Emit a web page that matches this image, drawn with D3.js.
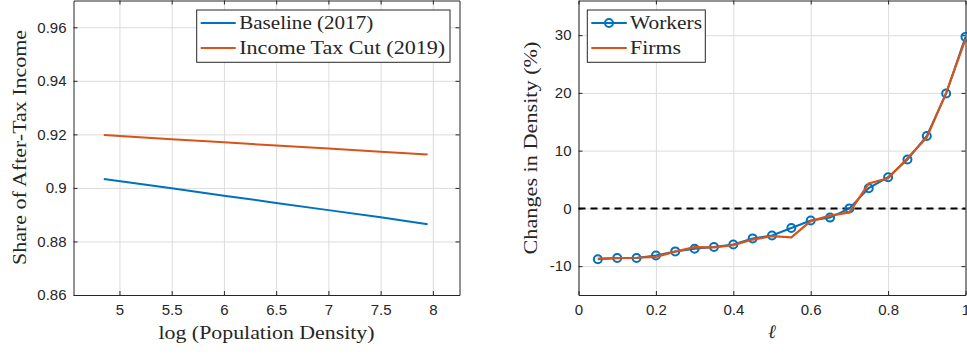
<!DOCTYPE html>
<html>
<head>
<meta charset="utf-8">
<script src="https://cdn.jsdelivr.net/npm/d3@7"></script>
<style>
  body { margin: 0; background: #fff; }
  svg { display: block; }
  .tick text { font-family: "Liberation Sans", Arial, sans-serif; font-size: 15px; fill: #262626; }
  .label { font-family: "Liberation Serif", "Times New Roman", serif; fill: #262626; }
</style>
</head>
<body>
<div class="chart"></div>
<script>
// Left panel data
let logDensity = [4.85, 5.5, 6, 6.5, 7, 7.5, 7.95];
let baseline2017 = [0.9033, 0.8999, 0.8971, 0.8944, 0.8917, 0.8890, 0.8864];
let taxCut2019 = [0.9198, 0.9182, 0.9171, 0.9158, 0.9147, 0.9135, 0.9125];
let leftXTicks = [5, 5.5, 6, 6.5, 7, 7.5, 8];
let leftYTicks = [0.86, 0.88, 0.9, 0.92, 0.94, 0.96];

// Right panel data
let ell = [0.05, 0.1, 0.15, 0.2, 0.25, 0.3, 0.35, 0.4, 0.45, 0.5,
           0.55, 0.6, 0.65, 0.7, 0.75, 0.8, 0.85, 0.9, 0.95, 1];
let workers = [-8.8, -8.6, -8.6, -8.15, -7.45, -7.0, -6.7, -6.25, -5.2, -4.7,
               -3.4, -2.1, -1.6, 0.0, 3.5, 5.4, 8.45, 12.55, 19.9, 29.7];
let firms = [-8.7, -8.6, -8.55, -8.4, -7.5, -6.7, -6.75, -6.35, -5.4, -4.8,
             -5.0, -2.2, -1.25, -0.7, 4.3, 5.2, 8.7, 12.3, 20.0, 29.3];
let rightXTicks = [0, 0.2, 0.4, 0.6, 0.8, 1];
let rightYTicks = [-10, 0, 10, 20, 30];

let svgWidth = 967;
let svgHeight = 354;
let blue = "#0072BD";
let orange = "#D95319";
let ink = "#262626";

let svg = d3.select(".chart")
  .append("svg")
  .attr("width", svgWidth)
  .attr("height", svgHeight);

// draws the box, grid and inward ticks of a MATLAB-style axes
function drawAxes(g, x, y, w, h, xTicks, yTicks, xFmt, yFmt) {
  g.append("g")
    .attr("transform", `translate(0, ${h})`)
    .call(d3.axisBottom(x).tickValues(xTicks).tickSize(-h).tickFormat(""))
    .call(a => a.select(".domain").remove())
    .selectAll("line").attr("stroke", "#dcdcdc");
  g.append("g")
    .call(d3.axisLeft(y).tickValues(yTicks).tickSize(-w).tickFormat(""))
    .call(a => a.select(".domain").remove())
    .selectAll("line").attr("stroke", "#dcdcdc");

  let bottom = g.append("g")
    .attr("class", "axis")
    .attr("transform", `translate(0, ${h})`)
    .call(d3.axisBottom(x).tickValues(xTicks).tickSizeInner(-4).tickSizeOuter(0).tickPadding(9).tickFormat(xFmt));
  let top = g.append("g")
    .call(d3.axisTop(x).tickValues(xTicks).tickSizeInner(-4).tickSizeOuter(0).tickFormat(""));
  let left = g.append("g")
    .attr("class", "axis")
    .call(d3.axisLeft(y).tickValues(yTicks).tickSizeInner(-4).tickSizeOuter(0).tickPadding(7).tickFormat(yFmt));
  let right = g.append("g")
    .attr("transform", `translate(${w}, 0)`)
    .call(d3.axisRight(y).tickValues(yTicks).tickSizeInner(-4).tickSizeOuter(0).tickFormat(""));
  [bottom, top, left, right].forEach(function(a) {
    a.selectAll("line").attr("stroke", ink);
    a.select(".domain").attr("stroke", ink);
  });
}

// ---------- Left panel ----------
let L = { left: 73.5, top: 0.5, width: 386, height: 294.5 };
let left = svg.append("g").attr("transform", `translate(${L.left}, ${L.top})`);

let xLeft = d3.scaleLinear().domain([4.56, 8.255]).range([0, L.width]);
let yLeft = d3.scaleLinear().domain([0.86, 0.97]).range([L.height, 0]);

drawAxes(left, xLeft, yLeft, L.width, L.height, leftXTicks, leftYTicks,
  d => String(d), d => String(+d.toFixed(2)));

let lineLeft = d3.line()
  .x((d, i) => xLeft(logDensity[i]))
  .y(d => yLeft(d));

left.append("path").datum(baseline2017)
  .attr("d", lineLeft).attr("fill", "none").attr("stroke", blue).attr("stroke-width", 2);
left.append("path").datum(taxCut2019)
  .attr("d", lineLeft).attr("fill", "none").attr("stroke", orange).attr("stroke-width", 2);

// left legend
let legL = left.append("g").attr("transform", `translate(${196.7 - L.left}, ${10 - L.top})`);
legL.append("rect").attr("width", 253.3).attr("height", 52.3)
  .attr("fill", "#fff").attr("stroke", ink).attr("stroke-width", 1);
[["Baseline (2017)", blue, 134], ["Income Tax Cut (2019)", orange, 206]].forEach(function(item, i) {
  let yy = 13 + i * 25;
  legL.append("line").attr("x1", 4).attr("x2", 39).attr("y1", yy).attr("y2", yy)
    .attr("stroke", item[1]).attr("stroke-width", 2);
  legL.append("text").attr("class", "label").attr("x", 42.5).attr("y", yy + 5.5)
    .attr("font-size", 18).attr("textLength", item[2]).attr("lengthAdjust", "spacingAndGlyphs")
    .text(item[0]);
});

// left axis labels
svg.append("text").attr("class", "label")
  .attr("transform", "translate(25.5, 147.5) rotate(-90)")
  .attr("text-anchor", "middle").attr("font-size", 18)
  .attr("textLength", 235).attr("lengthAdjust", "spacingAndGlyphs")
  .text("Share of After-Tax Income");
svg.append("text").attr("class", "label")
  .attr("x", L.left + L.width / 2).attr("y", 339)
  .attr("text-anchor", "middle").attr("font-size", 18)
  .attr("textLength", 216).attr("lengthAdjust", "spacingAndGlyphs")
  .text("log (Population Density)");

// ---------- Right panel ----------
let R = { left: 578.5, top: 0.5, width: 387, height: 294.5 };
let right = svg.append("g").attr("transform", `translate(${R.left}, ${R.top})`);

let xRight = d3.scaleLinear().domain([0, 1]).range([0, R.width]);
let yRight = d3.scaleLinear().domain([-15, 36]).range([R.height, 0]);

drawAxes(right, xRight, yRight, R.width, R.height, rightXTicks, rightYTicks,
  d => String(+d.toFixed(1)), d => String(d));

// zero reference line
right.append("line")
  .attr("x1", 0).attr("x2", R.width)
  .attr("y1", yRight(0)).attr("y2", yRight(0))
  .attr("stroke", "#000").attr("stroke-width", 2).attr("stroke-dasharray", "7,5");

let lineRight = d3.line()
  .x((d, i) => xRight(ell[i]))
  .y(d => yRight(d));

right.append("path").datum(workers)
  .attr("d", lineRight).attr("fill", "none").attr("stroke", blue).attr("stroke-width", 2);
right.selectAll("circle.worker")
  .data(workers)
  .enter().append("circle")
  .attr("class", "worker")
  .attr("cx", (d, i) => xRight(ell[i]))
  .attr("cy", d => yRight(d))
  .attr("r", 4)
  .attr("fill", "none")
  .attr("stroke", blue)
  .attr("stroke-width", 2);
right.append("path").datum(firms)
  .attr("d", lineRight).attr("fill", "none").attr("stroke", orange).attr("stroke-width", 2.2);

// right legend
let legR = right.append("g").attr("transform", `translate(${587.3 - R.left}, ${10 - R.top})`);
legR.append("rect").attr("width", 118).attr("height", 52.3)
  .attr("fill", "#fff").attr("stroke", ink).attr("stroke-width", 1);
legR.append("line").attr("x1", 4).attr("x2", 39.5).attr("y1", 13).attr("y2", 13)
  .attr("stroke", blue).attr("stroke-width", 2);
legR.append("circle").attr("cx", 21.7).attr("cy", 13).attr("r", 4)
  .attr("fill", "none").attr("stroke", blue).attr("stroke-width", 2);
legR.append("line").attr("x1", 4).attr("x2", 39.5).attr("y1", 38).attr("y2", 38)
  .attr("stroke", orange).attr("stroke-width", 2);
[["Workers", 72], ["Firms", 51]].forEach(function(item, i) {
  legR.append("text").attr("class", "label").attr("x", 42.7).attr("y", 13 + i * 25 + 5.5)
    .attr("font-size", 18).attr("textLength", item[1]).attr("lengthAdjust", "spacingAndGlyphs")
    .text(item[0]);
});

// right axis labels
svg.append("text").attr("class", "label")
  .attr("transform", "translate(537, 148) rotate(-90)")
  .attr("text-anchor", "middle").attr("font-size", 18)
  .attr("textLength", 213).attr("lengthAdjust", "spacingAndGlyphs")
  .text("Changes in Density (%)");
svg.append("text").attr("class", "label")
  .attr("x", 772).attr("y", 338)
  .attr("text-anchor", "middle").attr("font-size", 19).attr("font-style", "italic")
  .text("ℓ");
</script>
</body>
</html>
